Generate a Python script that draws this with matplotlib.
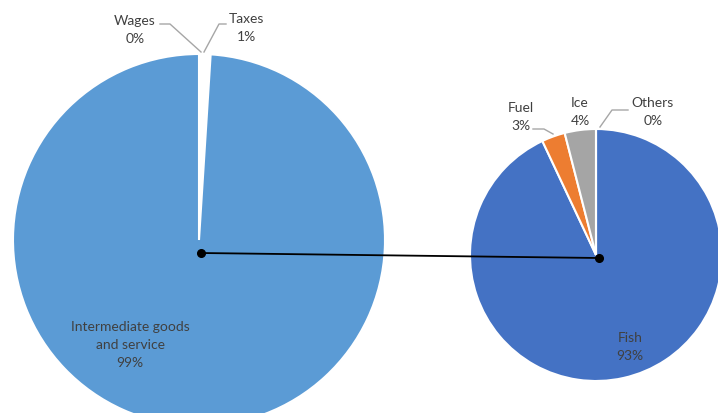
import matplotlib.pyplot as plt

plt.rcParams['font.family'] = ['Lato', 'DejaVu Sans']

# cost structure (left pie)
cost_labels = ['Wages', 'Taxes', 'Intermediate goods\nand service']
cost_values = [0, 1, 99]
cost_colors = ['#ffffff', '#ffffff', '#5b9bd5']

# breakdown of intermediate goods (right pie)
inter_labels = ['Fish', 'Fuel', 'Ice', 'Others']
inter_values = [93, 3, 4, 0]
inter_colors = ['#4472c4', '#ed7d31', '#a5a5a5', '#ffc000']

W, H = 718, 414

def yy(y):
    # work in pixel-like coordinates measured from the top
    return H - y

fig = plt.figure(figsize=(W / 100, H / 100), dpi=100)
ax = fig.add_axes([0, 0, 1, 1])

big_c = (199, yy(241))
big_r = 186
small_c = (596, yy(256))
small_r = 126

wedge_kw = dict(edgecolor='white', linewidth=1.5)
ax.pie(cost_values, colors=cost_colors, startangle=90, counterclock=False,
       center=big_c, radius=big_r, wedgeprops=wedge_kw, frame=True)
ax.pie(inter_values, colors=inter_colors, startangle=90, counterclock=False,
       center=small_c, radius=small_r, wedgeprops=wedge_kw, frame=True)

# connector between the two pies
ax.plot([201, 599], [yy(254), yy(259)], color='black', lw=1.3, zorder=5)
ax.plot([201, 599], [yy(254), yy(259)], 'o', color='black', ms=5.5, zorder=6)

txt = dict(ha='center', va='center', fontsize=10, color='#404040', linespacing=1.6)
lead = dict(color='#a6a6a6', lw=1)

def pct(v, total):
    return f'{round(100 * v / total)}%'

ct = sum(cost_values)
it = sum(inter_values)

ax.text(135, yy(30), f'{cost_labels[0]}\n{pct(cost_values[0], ct)}', **txt)
ax.plot([160, 170, 201], [yy(25), yy(25), yy(53)], **lead)
ax.text(246, yy(28), f'{cost_labels[1]}\n{pct(cost_values[1], ct)}', **txt)
ax.plot([226, 219, 204], [yy(25), yy(25), yy(53)], **lead)
ax.text(130, yy(345), f'{cost_labels[2]}\n{pct(cost_values[2], ct)}', **txt)

ax.text(630, yy(347), f'{inter_labels[0]}\n{pct(inter_values[0], it)}', **txt)
ax.text(521, yy(117), f'{inter_labels[1]}\n{pct(inter_values[1], it)}', **txt)
ax.plot([533, 544, 553], [yy(130), yy(130), yy(135)], **lead)
ax.text(580, yy(112), f'{inter_labels[2]}\n{pct(inter_values[2], it)}', **txt)
ax.text(653, yy(112), f'{inter_labels[3]}\n{pct(inter_values[3], it)}', **txt)
ax.plot([600, 612, 628], [yy(128), yy(111), yy(111)], **lead)

ax.set_xlim(0, W)
ax.set_ylim(0, H)
ax.set_aspect('equal')
ax.axis('off')

fig.savefig('out.png', dpi=100, facecolor='white')
